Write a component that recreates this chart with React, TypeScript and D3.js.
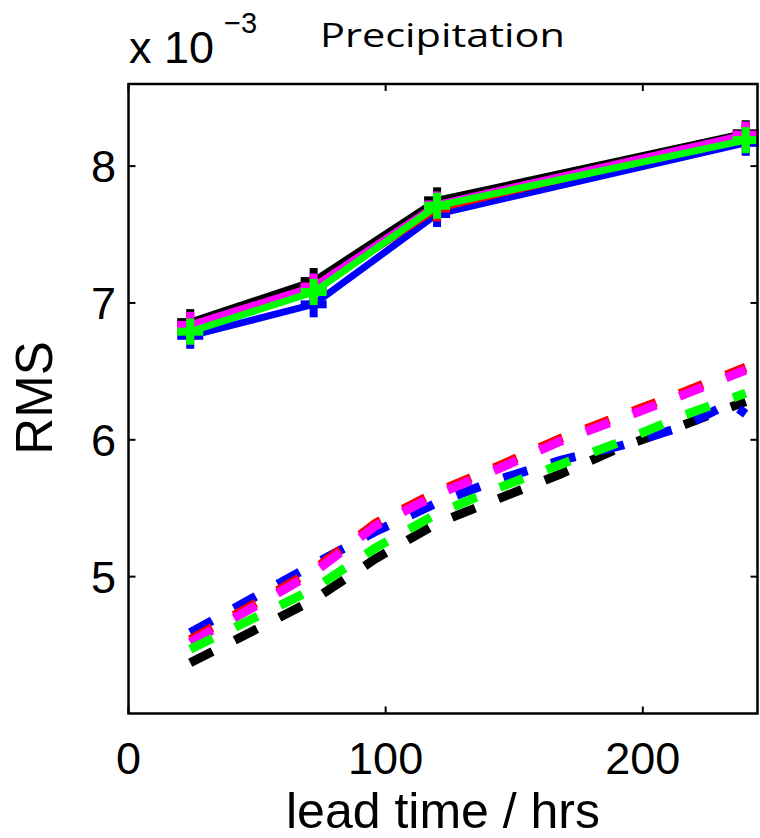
import React from "react";
import * as d3 from "d3";

// lead times (hrs)
const solidLeads = [24, 72, 120, 240];
const dashedLeads = [24, 48, 72, 96, 120, 144, 168, 192, 216, 240];
const blueDashedLeads = [24, 48, 72, 96, 120, 144, 168, 192, 216, 234, 240];

// RMS values (x 10^-3), solid lines with + markers
const solidBlack = [6.86, 7.16, 7.75, 8.24];
const solidBlue = [6.76, 6.99, 7.65, 8.17];
const solidRed = [6.82, 7.10, 7.69, 8.22];
const solidMagenta = [6.84, 7.12, 7.72, 8.23];
const solidGreen = [6.79, 7.08, 7.71, 8.19];

// RMS values (x 10^-3), dashed lines
const dashedBlack = [4.37, 4.60, 4.83, 5.13, 5.39, 5.57, 5.75, 5.95, 6.11, 6.28];
const dashedBlue = [4.59, 4.84, 5.09, 5.33, 5.54, 5.71, 5.85, 5.96, 6.10, 6.27, 6.19];
const dashedRed = [4.54, 4.79, 5.05, 5.39, 5.62, 5.81, 6.01, 6.18, 6.35, 6.53];
const dashedMagenta = [4.52, 4.77, 5.03, 5.37, 5.60, 5.79, 5.99, 6.16, 6.33, 6.51];
const dashedGreen = [4.47, 4.69, 4.91, 5.21, 5.46, 5.65, 5.82, 5.99, 6.18, 6.34];

const xTicks = [0, 100, 200];
const yTicks = [5, 6, 7, 8];

const title = "Precipitation";
const xLabel = "lead time / hrs";
const yLabel = "RMS";

export default function App() {
  const W = 760;
  const H = 838;
  const left = 128.5;
  const right = 757.5;
  const top = 84;
  const bottom = 713.5;

  const x = d3.scaleLinear().domain([0, 244.6]).range([left, right]);
  const y = d3.scaleLinear().domain([4, 8.6]).range([bottom, top]);

  const line = d3
    .line<[number, number]>()
    .x((d) => x(d[0]))
    .y((d) => y(d[1]));

  const pts = (xs: number[], ys: number[]) =>
    xs.map((v, i) => [v, ys[i]] as [number, number]);

  const dashed = [
    { c: "#000000", xs: dashedLeads, ys: dashedBlack },
    { c: "#0000ff", xs: blueDashedLeads, ys: dashedBlue },
    { c: "#ff0000", xs: dashedLeads, ys: dashedRed },
    { c: "#ff00ff", xs: dashedLeads, ys: dashedMagenta },
    { c: "#00ff00", xs: dashedLeads, ys: dashedGreen },
  ];
  const solid = [
    { c: "#000000", ys: solidBlack },
    { c: "#0000ff", ys: solidBlue },
    { c: "#ff0000", ys: solidRed },
    { c: "#ff00ff", ys: solidMagenta },
    { c: "#00ff00", ys: solidGreen },
  ];

  const tickFont = "'Liberation Sans', Arial, Helvetica, sans-serif";
  const ms = 13;

  return (
    <svg
      width={W}
      height={H}
      style={{ position: "absolute", left: 0, top: 0, background: "#fff" }}
    >
      <rect x={0} y={0} width={W} height={H} fill="#fff" />
      {/* dashed lines */}
      {dashed.map((s, i) => (
        <path
          key={"d" + i}
          d={line(pts(s.xs, s.ys)) || ""}
          fill="none"
          stroke={s.c}
          strokeWidth={9}
          strokeDasharray="25 25"
          strokeLinecap="butt"
          strokeLinejoin="miter"
        />
      ))}
      {/* solid lines with + markers */}
      {solid.map((s, i) => (
        <g key={"s" + i}>
          <path
            d={line(pts(solidLeads, s.ys)) || ""}
            fill="none"
            stroke={s.c}
            strokeWidth={7}
            strokeLinejoin="miter"
          />
          {solidLeads.map((lv, j) => (
            <g key={j} stroke={s.c} strokeWidth={8}>
              <line x1={x(lv) - ms} x2={x(lv) + ms} y1={y(s.ys[j])} y2={y(s.ys[j])} />
              <line x1={x(lv)} x2={x(lv)} y1={y(s.ys[j]) - ms} y2={y(s.ys[j]) + ms} />
            </g>
          ))}
        </g>
      ))}
      {/* frame */}
      <rect
        x={left}
        y={top}
        width={right - left}
        height={bottom - top}
        fill="none"
        stroke="#000"
        strokeWidth={2.5}
      />
      {/* ticks */}
      {xTicks.map((t) => (
        <g key={"xt" + t}>
          <line x1={x(t)} x2={x(t)} y1={bottom} y2={bottom - 7} stroke="#000" strokeWidth={2} />
          <line x1={x(t)} x2={x(t)} y1={top} y2={top + 7} stroke="#000" strokeWidth={2} />
          <text
            x={x(t)}
            y={774}
            textAnchor="middle"
            fontFamily={tickFont}
            fontSize={45}
            fill="#000"
          >
            {t}
          </text>
        </g>
      ))}
      {yTicks.map((t) => (
        <g key={"yt" + t}>
          <line x1={left} x2={left + 7} y1={y(t)} y2={y(t)} stroke="#000" strokeWidth={2} />
          <line x1={right} x2={right - 7} y1={y(t)} y2={y(t)} stroke="#000" strokeWidth={2} />
          <text
            x={116}
            y={y(t) + 16}
            textAnchor="end"
            fontFamily={tickFont}
            fontSize={45}
            fill="#000"
          >
            {t}
          </text>
        </g>
      ))}
      {/* exponent */}
      <text x={129} y={63} fontFamily={tickFont} fontSize={45} fill="#000">
        x 10
      </text>
      <text x={224} y={33} fontFamily={tickFont} fontSize={29} fill="#000">
        −3
      </text>
      {/* title */}
      <text
        x={320}
        y={47}
        fontFamily="'Open Sans', Lato, sans-serif"
        fontWeight={400}
        fontSize={32}
        textLength={245}
        lengthAdjust="spacingAndGlyphs"
        fill="#000"
      >
        {title}
      </text>
      {/* axis labels */}
      <text
        x={443}
        y={828}
        textAnchor="middle"
        fontFamily={tickFont}
        fontSize={50}
        fill="#000"
      >
        {xLabel}
      </text>
      <text
        transform={`translate(52,398) rotate(-90)`}
        textAnchor="middle"
        fontFamily={tickFont}
        fontSize={51}
        fill="#000"
      >
        {yLabel}
      </text>
    </svg>
  );
}
